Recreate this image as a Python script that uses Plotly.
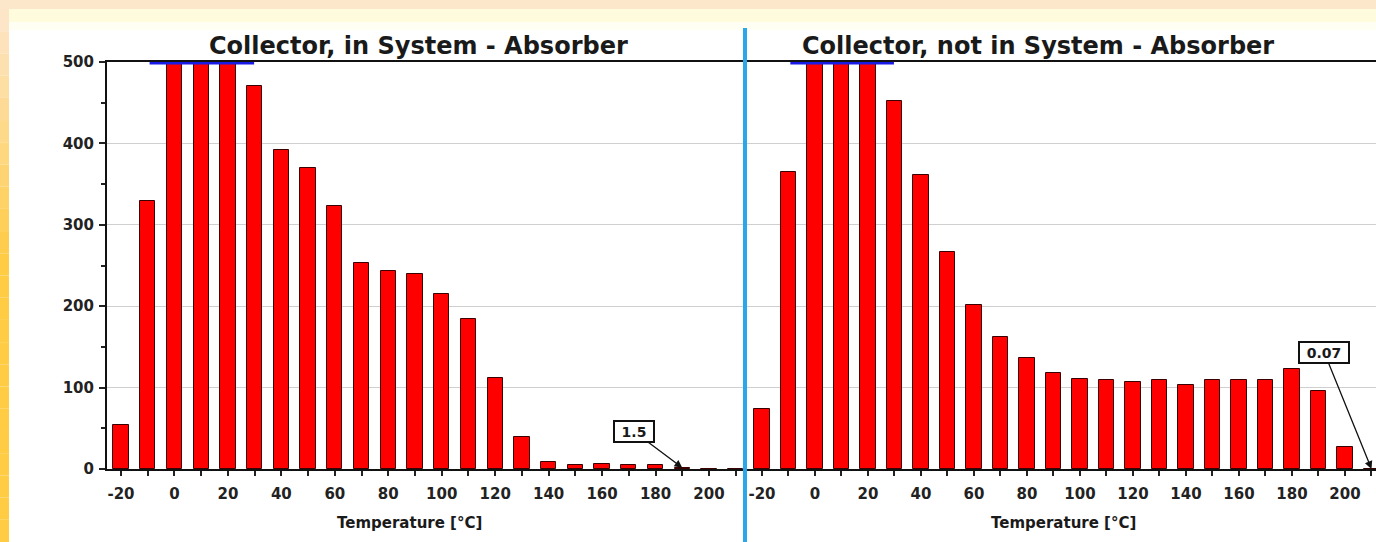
import plotly.graph_objects as go

# ---------------- data ----------------
temps = [-20, -10, 0, 10, 20, 30, 40, 50, 60, 70, 80, 90, 100, 110, 120,
         130, 140, 150, 160, 170, 180, 190, 200, 210]
in_system = [54, 329, 500, 500, 500, 470, 392, 370, 323, 253, 243, 240, 215,
             184, 112, 39, 9, 5, 6, 5, 5, 1.5, 0, 0]
not_in_system = [74, 365, 500, 500, 500, 452, 361, 267, 201, 162, 136, 118, 110,
                 109, 107, 109, 103, 109, 109, 109, 123, 96, 27, 0.07]
titles = ["Collector, in System - Absorber", "Collector, not in System - Absorber"]
x_title = "Temperature [°C]"
x_ticks = [-20, 0, 20, 40, 60, 80, 100, 120, 140, 160, 180, 200]
x_ticklabels = ["-20", "0", "20", "40", "60", "80", "100", "120", "140", "160", "180", "200"]
y_ticks = [0, 100, 200, 300, 400, 500]
labelled_temp = [190, 210]
y_max = 500

# ---------------- layout helpers ----------------
W, H = 1376, 542
FONT = "DejaVu Sans, Liberation Sans, Arial, sans-serif"
px = lambda v: v / W
py = lambda v: 1 - v / H

y_dom = [py(469), py(62)]
x_doms = [[px(107), px(745)], [px(745), 1.0]]
x_ranges = [[-25.24, 213.47], [-26.4, 211.7]]

fig = go.Figure()
series = [in_system, not_in_system]
for i, vals in enumerate(series):
    xa = "x" if i == 0 else "x2"
    ya = "y" if i == 0 else "y2"
    fig.add_trace(go.Bar(
        x=temps, y=vals, width=5.7, xaxis=xa, yaxis=ya,
        marker=dict(color="#FF0000", line=dict(color="#3A0000", width=1)),
        showlegend=False, hoverinfo="x+y"))
    # overflow indicator: bars at the axis maximum
    over = [t for t, v in zip(temps, vals) if v >= y_max]
    if over:
        fig.add_trace(go.Scatter(
            x=[min(over) - 9.3, max(over) + 9.8], y=[y_max, y_max], mode="lines",
            line=dict(color="#1A1AE6", width=5), xaxis=xa, yaxis=ya,
            cliponaxis=False, showlegend=False, hoverinfo="skip"))

tickfont = dict(family=FONT, size=15, color="#222222", weight="bold")
axis_common = dict(showline=True, linecolor="#111111", linewidth=2,
                   ticks="outside", tickcolor="#222222", ticklen=5, tickwidth=2,
                   tickfont=tickfont, zeroline=False, automargin=False)

for i in range(2):
    sx = "" if i == 0 else "2"
    fig.layout["xaxis" + sx] = dict(
        axis_common, domain=x_doms[i], range=x_ranges[i], anchor="y" + sx,
        tickvals=x_ticks, ticktext=x_ticklabels, mirror=True, showgrid=False,
        ticklabelstandoff=5,
        minor=dict(dtick=10, tick0=0, ticks="outside", ticklen=5,
                   tickcolor="#222222", tickwidth=2, showgrid=False))
    fig.layout["yaxis" + sx] = dict(
        axis_common, domain=y_dom, range=[0, y_max], anchor="x" + sx,
        tickvals=y_ticks, showgrid=True, gridcolor="#CFCFCF", gridwidth=1,
        showticklabels=(i == 0), showline=(i == 0), ticklen=6,
        ticks="outside" if i == 0 else "", ticklabelstandoff=2,
        minor=dict(dtick=50, tick0=0, ticks="outside" if i == 0 else "",
                   ticklen=4, tickcolor="#222222", tickwidth=2, showgrid=False))

shapes = []
# outer decorative frame: top strip, left gradient strip, yellow band
shapes.append(dict(type="rect", xref="paper", yref="paper", x0=0, x1=1,
                   y0=py(9), y1=1, fillcolor="#FDE7CB", line_width=0, layer="below"))
shapes.append(dict(type="rect", xref="paper", yref="paper", x0=px(9), x1=1,
                   y0=py(22), y1=py(9), fillcolor="#FFFCDD", line_width=0, layer="below"))
shapes.append(dict(type="rect", xref="paper", yref="paper", x0=px(9), x1=1,
                   y0=py(30), y1=py(22), fillcolor="#FFFEF2", line_width=0, layer="below"))
n = 24
c0 = (253, 229, 200)
c1 = (255, 204, 68)
for k in range(n):
    t = min(1.0, k / (n * 0.45))
    col = tuple(int(c0[j] + (c1[j] - c0[j]) * t) for j in range(3))
    y0p = 9 + (H - 9) * k / n
    y1p = 9 + (H - 9) * (k + 1) / n
    shapes.append(dict(type="rect", xref="paper", yref="paper", x0=0, x1=px(9),
                       y0=py(y1p), y1=py(y0p), fillcolor="rgb(%d,%d,%d)" % col,
                       line_width=0, layer="below"))
# blue divider between panels
shapes.append(dict(type="line", xref="paper", yref="paper", x0=px(745), x1=px(745),
                   y0=0, y1=py(28), line=dict(color="#2AA6EA", width=4)))
fig.update_layout(shapes=shapes)

annotations = []
centers = [418, 1038]
xt_centers = [410, 1063]
for i in range(2):
    annotations.append(dict(text=titles[i], xref="paper", yref="paper",
                            x=px(centers[i]), y=py(46), showarrow=False,
                            xanchor="center", yanchor="middle",
                            font=dict(family=FONT, size=24, color="#1A1A1A", weight="bold")))
    annotations.append(dict(text=x_title, xref="paper", yref="paper",
                            x=px(xt_centers[i]), y=py(523), showarrow=False,
                            xanchor="center", yanchor="middle",
                            font=dict(family=FONT, size=15, color="#1A1A1A", weight="bold")))
offsets = [(-48, -36), (-47, -116)]
for i, vals in enumerate(series):
    t = labelled_temp[i]
    v = vals[temps.index(t)]
    sx = "" if i == 0 else "2"
    label = str(v)
    annotations.append(dict(
        text=label, x=t, y=v, xref="x" + sx, yref="y" + sx,
        showarrow=True, arrowhead=2, arrowsize=1.2, arrowwidth=1.3, arrowcolor="#111111",
        ax=offsets[i][0], ay=offsets[i][1], bgcolor="#FFFFFF",
        bordercolor="#111111", borderwidth=2, borderpad=1,
        width=len(label) * 10 + 6, height=17,
        font=dict(family=FONT, size=14, color="#1A1A1A", weight="bold")))
fig.update_layout(annotations=annotations)

fig.update_layout(width=W, height=H,
                  margin=dict(l=0, r=0, t=0, b=0, pad=0, autoexpand=False),
                  paper_bgcolor="#FFFFFF", plot_bgcolor="rgba(0,0,0,0)",
                  bargap=0, showlegend=False)

fig.write_html("out.html", config={"displayModeBar": False},
               post_script="document.body.style.margin='0';"
                           "document.body.style.overflow='hidden';")
